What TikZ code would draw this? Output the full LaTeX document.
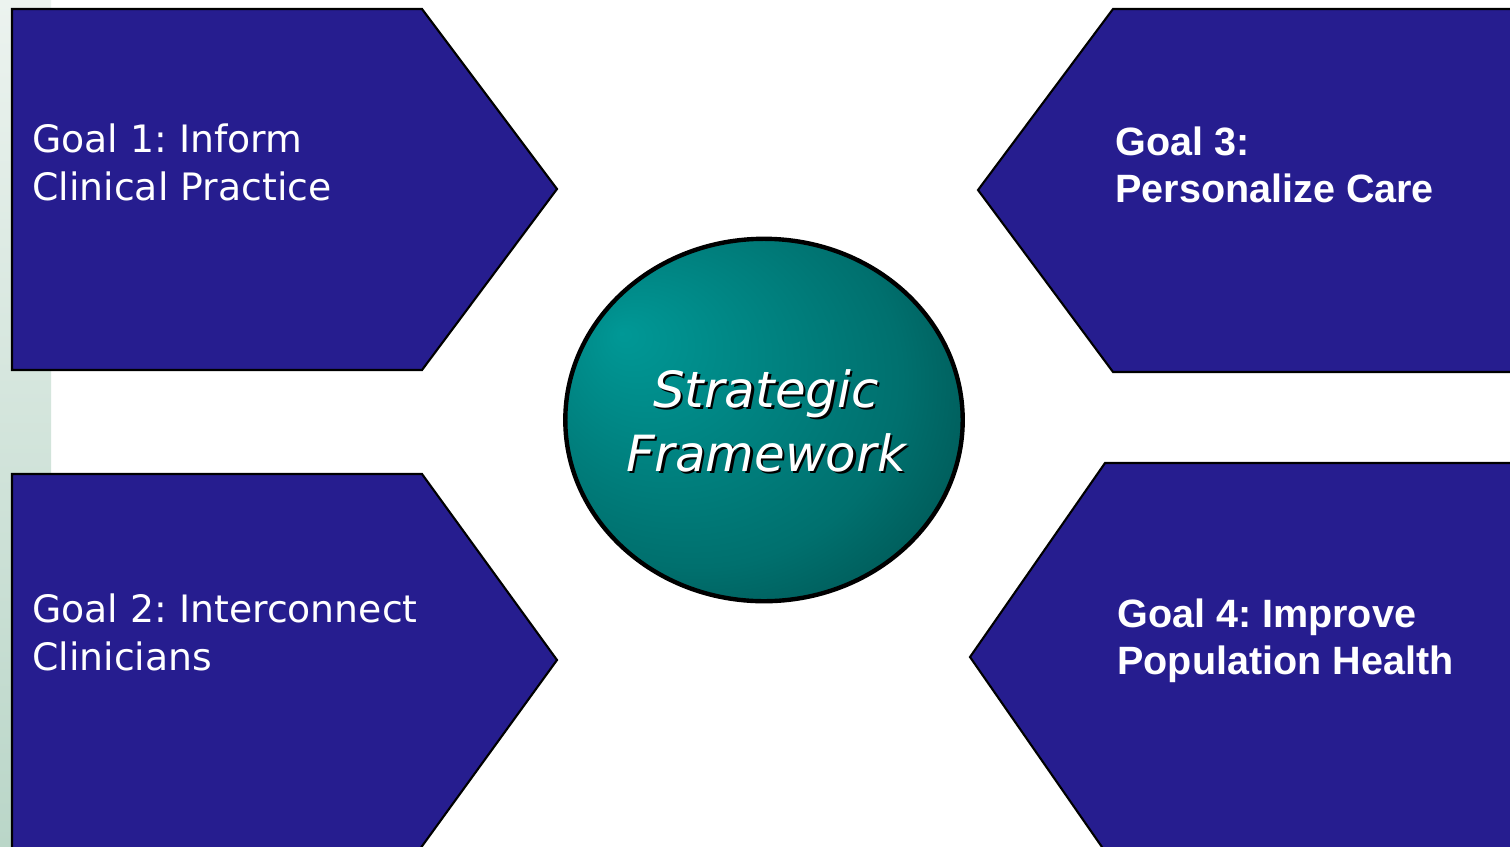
\documentclass[tikz,border=0pt]{standalone}
\usepackage{fontspec}
\usetikzlibrary{shapes.geometric}
\newfontfamily\goalfont{DejaVu Sans}
\newfontfamily\goalboldfont{Liberation Sans}
\frenchspacing
\definecolor{goalblue}{RGB}{38,29,143}
\definecolor{tealhi}{RGB}{0,152,150}
\definecolor{tealmid}{RGB}{0,112,110}
\definecolor{tealdark}{RGB}{0,70,68}
\definecolor{stripetop}{RGB}{236,243,239}
\definecolor{stripebot}{RGB}{186,214,200}
\pgfdeclareradialshading{tealglow}{\pgfpoint{-18bp}{12bp}}{color(0bp)=(tealhi); color(26bp)=(tealmid); color(42bp)=(tealdark); color(50bp)=(tealdark)}

\begin{document}
\begin{tikzpicture}[x=0.02cm,y=-0.02cm,
  goalbox/.style={fill=goalblue,draw=black,line width=1.2pt,line join=miter},
  goaltext/.style={text=white,inner sep=0pt,anchor=base west,align=left,
    font=\goalfont\fontsize{21.5}{27}\selectfont},
  goalbold/.style={goaltext,font=\goalboldfont\bfseries\fontsize{22.5}{26.7}\selectfont},
  framework/.style={inner sep=0pt,anchor=base,align=center,
    font=\goalfont\itshape\fontsize{28.4}{36.3}\selectfont}]
  \useasboundingbox (0,0) rectangle (1510,846);
  \fill[white] (0,0) rectangle (1510,846);
  \shade[top color=stripetop,bottom color=stripebot] (0,0) rectangle (51,846);

  % goal arrows
  \draw[goalbox] (12,9) -- (422,9) -- (557,189) -- (422,370) -- (12,370) -- cycle;
  \draw[goalbox] (12,474) -- (422,474) -- (557,660) -- (412,860) -- (12,860) -- cycle;
  \draw[goalbox] (1530,9) -- (1113,9) -- (978,190) -- (1113,372) -- (1530,372) -- cycle;
  \draw[goalbox] (1530,463) -- (1105,463) -- (970,657) -- (1111,860) -- (1530,860) -- cycle;

  % anchor is the baseline of the last line
  \node[goaltext] (goal1) at (32,200) {Goal 1: Inform\\Clinical Practice};
  \node[goaltext] (goal2) at (32,670) {Goal 2: Interconnect\\Clinicians};
  \node[goalbold] (goal3) at (1115,202) {Goal 3:\\Personalize Care};
  \node[goalbold] (goal4) at (1117,674) {Goal 4: Improve\\Population Health};

  % centre
  \node[ellipse,draw=black,line width=2.5pt,shade,shading=tealglow,
    minimum width=7.95cm,minimum height=7.25cm,inner sep=0pt] (frame) at (764,420) {};
  \node[framework,text=black] (frameshadow) at (768.5,473.5) {Strategic\\Framework};
  \node[framework,text=white] (frametext) at (766,471) {Strategic\\Framework};
\end{tikzpicture}
\end{document}
